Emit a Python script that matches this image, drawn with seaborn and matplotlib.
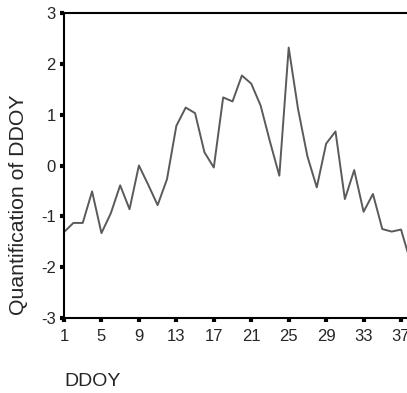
import matplotlib
matplotlib.use("Agg")
import matplotlib.pyplot as plt
from matplotlib import font_manager
import seaborn as sns
import pandas as pd

# Data
doy = list(range(1, 39))
quant = [-1.31, -1.13, -1.13, -0.51, -1.33, -0.94, -0.39, -0.86, 0.0, -0.38,
         -0.78, -0.27, 0.78, 1.14, 1.03, 0.26, -0.04, 1.34, 1.26, 1.77,
         1.61, 1.18, 0.47, -0.20, 2.32, 1.11, 0.18, -0.43, 0.43, 0.67,
         -0.66, -0.09, -0.91, -0.56, -1.25, -1.30, -1.26, -1.89]
xticks = [1, 5, 9, 13, 17, 21, 25, 29, 33, 37]
yticks = [-3, -2, -1, 0, 1, 2, 3]
xlabel = "DDOY"
ylabel = "Quantification of DDOY"

sns.set_style("white")
names = {f.name for f in font_manager.fontManager.ttflist}
narrow = "Liberation Sans Narrow" if "Liberation Sans Narrow" in names else "Liberation Sans"
regular = "Liberation Sans"

df = pd.DataFrame({"DDOY": doy, "Q": quant})

W, H = 407, 393
fig = plt.figure(figsize=(W / 100, H / 100), dpi=100)
left, right, top, bottom = 64, 410.4, 13, 318
ax = fig.add_axes([left / W, (H - bottom) / H, (right - left) / W, (bottom - top) / H])

sns.lineplot(data=df, x="DDOY", y="Q", ax=ax, color="#5a5a5a", linewidth=1.4)

ax.set_xlim(1, 38)
ax.set_ylim(-3, 3)
ax.set_xticks(xticks)
ax.set_yticks(yticks)
ax.set_xticklabels([str(t) for t in xticks], fontfamily=narrow, fontsize=12)
ax.set_yticklabels([str(t) for t in yticks], fontfamily=narrow, fontsize=12)
ax.tick_params(axis="both", direction="out", length=3, width=3, color="black",
               bottom=True, left=True)
ax.tick_params(axis="y", pad=3)
ax.tick_params(axis="x", pad=5)

for s in ax.spines.values():
    s.set_color("black")
    s.set_linewidth(1.5)
ax.spines["right"].set_visible(False)

ax.set_xlabel(xlabel, fontfamily=narrow, fontsize=14, ha="left", va="center")
ax.xaxis.set_label_coords(0, -(381 - bottom) / (bottom - top))
ax.set_ylabel(ylabel, fontfamily=regular, fontsize=15.3, ha="center", va="center")
ax.yaxis.set_label_coords((19 - left) / (right - left), (bottom - 205) / (bottom - top))

fig.savefig("out.png", dpi=100)
